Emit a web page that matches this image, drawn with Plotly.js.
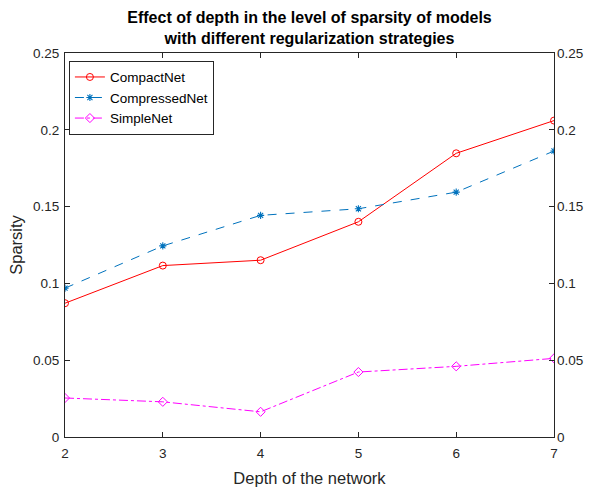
<!DOCTYPE html>
<html>
<head>
<meta charset="utf-8">
<script src="https://cdn.plot.ly/plotly-3.0.1.min.js"></script>
<style>html,body{margin:0;padding:0;background:#fff;}#chart{width:592px;height:487px;}</style>
</head>
<body>
<div id="chart"></div>
<script>
var depth = [2, 3, 4, 5, 6, 7];
var compactNet = [0.0871, 0.1116, 0.1151, 0.1401, 0.1847, 0.2060];
var compressedNet = [0.0969, 0.1244, 0.1443, 0.1486, 0.1594, 0.1862];
var simpleNet = [0.0254, 0.0229, 0.0164, 0.0423, 0.0460, 0.0512];
var seriesNames = ["CompactNet", "CompressedNet", "SimpleNet"];

var font = "Liberation Sans, Arial, Helvetica, sans-serif";
var axisColor = "#262626";

var traces = [
  {x: depth, y: compactNet, name: seriesNames[0], type: "scatter", mode: "lines+markers",
   line: {color: "#ff0000", width: 1, dash: "solid"},
   marker: {symbol: "circle-open", size: 7, color: "#ff0000", line: {width: 1}}},
  {x: depth, y: compressedNet, name: seriesNames[1], type: "scatter", mode: "lines+markers",
   line: {color: "#0072bd", width: 1, dash: "dash"},
   marker: {symbol: "asterisk-open", size: 6, color: "#0072bd", line: {width: 1.1, color: "#0072bd"}}},
  {x: depth, y: simpleNet, name: seriesNames[2], type: "scatter", mode: "lines+markers",
   line: {color: "#ff00ff", width: 1, dash: "dashdot"},
   marker: {symbol: "diamond-open", size: 7, color: "#ff00ff", line: {width: 1}}},
  // invisible helper so the right-hand axis (same scale) is drawn
  {x: depth, y: compactNet, yaxis: "y2", type: "scatter", mode: "lines", showlegend: false,
   hoverinfo: "skip", opacity: 0, line: {width: 0}}
];

var layout = {
  width: 592, height: 487,
  margin: {l: 65, r: 38, t: 52.5, b: 49.5},
  paper_bgcolor: "#fff", plot_bgcolor: "#fff",
  font: {family: font, size: 13.5, color: axisColor},
  title: {text: "<b>Effect of depth in the level of sparsity of models<br>with different regularization strategies</b>",
          font: {family: font, size: 16, color: "#000"}, x: 0.5, xanchor: "center",
          xref: "paper", yref: "container", y: 1 - 23 / 487, yanchor: "middle"},
  showlegend: true,
  legend: {x: 0.008, y: 0.98, xanchor: "left", yanchor: "top", bgcolor: "#fff",
           bordercolor: axisColor, borderwidth: 1, font: {family: font, size: 13.5, color: "#000"},
           tracegroupgap: 0},
  xaxis: {range: [2, 7], dtick: 1, tick0: 2, ticks: "inside", ticklen: 5, tickcolor: axisColor,
          showline: true, linecolor: axisColor, linewidth: 1, mirror: "ticks", showgrid: false, zeroline: false,
          title: {text: "Depth of the network", font: {family: font, size: 16.5, color: axisColor}, standoff: 12},
          tickfont: {family: font, size: 13.5, color: axisColor}, ticklabelstandoff: 4},
  yaxis: {range: [0, 0.25], dtick: 0.05, tick0: 0, ticks: "inside", ticklen: 5, tickcolor: axisColor,
          showline: true, linecolor: axisColor, linewidth: 1, mirror: true, showgrid: false, zeroline: false,
          title: {text: "Sparsity", font: {family: font, size: 16.5, color: axisColor}, standoff: 6},
          tickfont: {family: font, size: 13.5, color: axisColor}, ticklabelstandoff: 2},
  yaxis2: {range: [0, 0.25], dtick: 0.05, tick0: 0, overlaying: "y", side: "right",
           ticks: "inside", ticklen: 5, tickcolor: axisColor, showline: false, showgrid: false, zeroline: false,
           tickfont: {family: font, size: 13.5, color: axisColor}, ticklabelstandoff: 2}
};

Plotly.newPlot("chart", traces, layout, {displayModeBar: false, staticPlot: true});
</script>
</body>
</html>
